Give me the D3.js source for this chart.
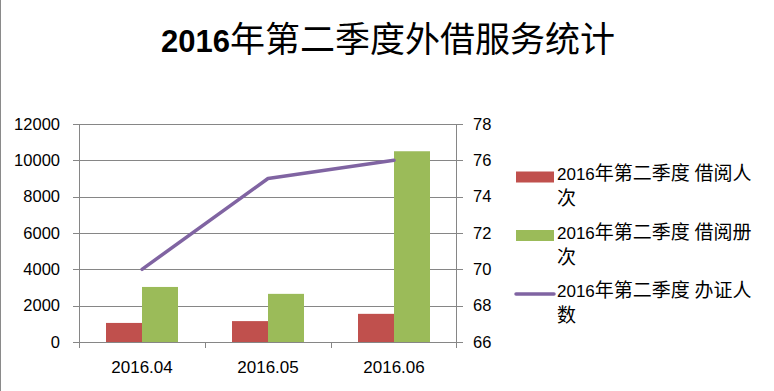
<!DOCTYPE html>
<html><head><meta charset="utf-8">
<script src="https://cdn.jsdelivr.net/npm/d3@7"></script>
<style>
html,body{margin:0;padding:0;background:#fff;}
svg{display:block;}
</style></head>
<body>
<svg id="c" width="774" height="391"></svg>
<script>
const title = "2016年第二季度外借服务统计";
const categories = ["2016.04", "2016.05", "2016.06"];
const seriesNames = ["2016年第二季度 借阅人次", "2016年第二季度 借阅册次", "2016年第二季度 办证人数"];
const borrowPeople = [1050, 1150, 1550];
const borrowBooks = [3030, 2650, 10500];
const cardCount = [70, 75, 76];
const leftTicks = [0, 2000, 4000, 6000, 8000, 10000, 12000];
const rightTicks = [66, 68, 70, 72, 74, 76, 78];
const colors = ["#C0504D", "#9BBB59", "#8064A2"];

const svg = d3.select("#c");
const L = 79, R = 457, T = 124, B = 342;
const gridColor = "#868686";

svg.append("rect").attr("x",0).attr("y",0).attr("width",1).attr("height",391).attr("fill","#8a8a8a");

// mixed font text helper
function mixed(sel, str, asciiFont, asciiSize, asciiWeight, cjkSize, cjkWeight) {
  const runs = str.match(/[\u0000-\u024F]+|[^\u0000-\u024F]+/g) || [];
  runs.forEach(r => {
    const ascii = /^[\u0000-\u024F]+$/.test(r);
    sel.append("tspan")
      .attr("font-family", ascii ? asciiFont : "'Noto Sans CJK SC'")
      .attr("font-size", ascii ? asciiSize : cjkSize)
      .attr("font-weight", ascii ? asciiWeight : cjkWeight)
      .text(r);
  });
}

// title
const tt = svg.append("text").attr("x", 388).attr("y", 52).attr("text-anchor","middle").attr("fill","#000");
mixed(tt, title, "'Liberation Sans'", 31, "bold", 35, "normal");

const x0 = d3.scaleBand().domain(categories).range([L, R]).paddingInner(0).paddingOuter(0);
const bw = x0.bandwidth();
const x1 = d3.scaleBand().domain([0,1]).range([bw*0.2143, bw*0.7857]);
const yL = d3.scaleLinear().domain([0, 12000]).range([B, T]);
const yR = d3.scaleLinear().domain([66, 78]).range([B, T]);

// gridlines
svg.append("g").selectAll("line").data(leftTicks).join("line")
  .attr("x1", L-6).attr("x2", R+6)
  .attr("y1", d => Math.round(yL(d))+0.5).attr("y2", d => Math.round(yL(d))+0.5)
  .attr("stroke", gridColor).attr("stroke-width",1);

// vertical axes lines
svg.append("line").attr("x1",L+0.5).attr("x2",L+0.5).attr("y1",T).attr("y2",B+6).attr("stroke",gridColor);
svg.append("line").attr("x1",R-0.5).attr("x2",R-0.5).attr("y1",T).attr("y2",B+6).attr("stroke",gridColor);
// category ticks
const catTicks = categories.map(c => x0(c)).concat([R]);
svg.append("g").selectAll("line").data(catTicks.slice(1,3)).join("line")
  .attr("x1", d => Math.round(d)+0.5).attr("x2", d => Math.round(d)+0.5)
  .attr("y1", B).attr("y2", B+6).attr("stroke", gridColor);

// bars
const seriesVals = [borrowPeople, borrowBooks];
seriesVals.forEach((vals, si) => {
  svg.append("g").selectAll("rect").data(categories).join("rect")
    .attr("x", (c) => x0(c) + x1(si))
    .attr("width", x1.bandwidth())
    .attr("y", (c,i) => yL(vals[i]))
    .attr("height", (c,i) => B - yL(vals[i]))
    .attr("fill", colors[si]);
});

// redraw baseline on top
svg.append("line").attr("x1",L-6).attr("x2",R+6).attr("y1",B+0.5).attr("y2",B+0.5).attr("stroke",gridColor);

// line
const line = d3.line().x((d,i) => x0(categories[i]) + bw/2).y(d => yR(d));
svg.append("path").datum(cardCount).attr("d", line)
  .attr("fill","none").attr("stroke", colors[2]).attr("stroke-width",3.5)
  .attr("stroke-linecap","round").attr("stroke-linejoin","round");

// left tick labels
svg.append("g").selectAll("text").data(leftTicks).join("text")
  .attr("x", 60).attr("y", d => yL(d)).attr("dy","0.35em")
  .attr("text-anchor","end").attr("font-family","'Liberation Sans'").attr("font-size",16.5).attr("fill","#000")
  .text(d => d);
// right tick labels
svg.append("g").selectAll("text").data(rightTicks).join("text")
  .attr("x", 473).attr("y", d => yR(d)).attr("dy","0.35em")
  .attr("text-anchor","start").attr("font-family","'Liberation Sans'").attr("font-size",16.5).attr("fill","#000")
  .text(d => d);
// category labels
svg.append("g").selectAll("text").data(categories).join("text")
  .attr("x", c => x0(c) + bw/2).attr("y", 373)
  .attr("text-anchor","middle").attr("font-family","'Liberation Sans'").attr("font-size",17).attr("fill","#000")
  .text(c => c);

// legend
const legY = [177.5, 236, 294];
seriesNames.forEach((name, i) => {
  const g = svg.append("g");
  if (i < 2) {
    g.append("rect").attr("x",516).attr("y",legY[i]-6).attr("width",38).attr("height",11).attr("fill",colors[i]);
  } else {
    g.append("line").attr("x1",516).attr("x2",554).attr("y1",legY[i]).attr("y2",legY[i])
      .attr("stroke",colors[i]).attr("stroke-width",3.5).attr("stroke-linecap","round");
  }
  const lines = [name.slice(0, -1), name.slice(-1)];
  lines.forEach((ln, k) => {
    const t = g.append("text").attr("x", 557).attr("y", legY[i] + 2.5 + k*25).attr("fill","#000");
    mixed(t, ln, "'Liberation Sans'", 17, "normal", 19, "normal");
  });
});
</script>
</body></html>
